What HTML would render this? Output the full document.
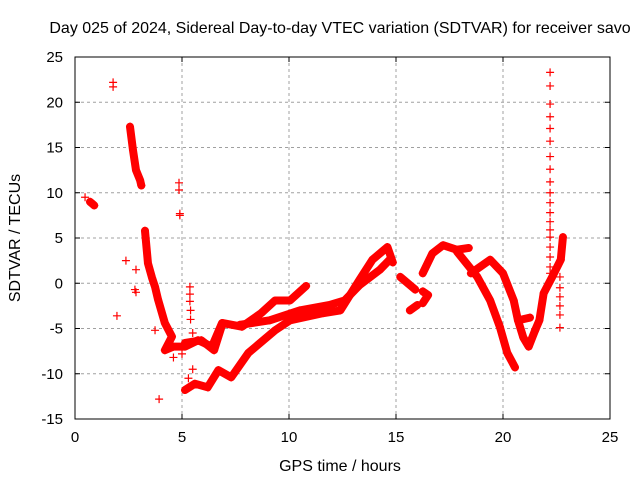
<!DOCTYPE html>
<html><head><meta charset="utf-8">
<style>
body{margin:0;background:#fff;}
svg{display:block;font-family:"Liberation Sans",sans-serif;}
</style></head>
<body>
<svg id="chart" width="640" height="480" viewBox="0 0 640 480">
<rect x="0" y="0" width="640" height="480" fill="#fff"/>
<text x="340" y="33" text-anchor="middle" font-size="16">Day 025 of 2024, Sidereal Day-to-day VTEC variation (SDTVAR) for receiver savo</text>
<text x="340" y="471" text-anchor="middle" font-size="16">GPS time / hours</text>
<text x="20" y="238" text-anchor="middle" font-size="16" transform="rotate(-90 20 238)">SDTVAR / TECUs</text>
<g id="grid"></g>
<g id="axes"></g>
<g id="marks"></g>
</svg>
<script>
const xTicks=[0,5,10,15,20,25];
const yTicks=[25,20,15,10,5,0,-5,-10,-15];
// tracks: [hour, value]
const trackLowerLoop=[[5.14,-11.8],[5.6,-11.1],[6.2,-11.5],[6.7,-9.6],[7.3,-10.4],[8.1,-7.7],[9.35,-5.2],[10.05,-4.1],[11.6,-3.3],[12.4,-3.0],[13.3,0.4],[13.9,2.6],[14.6,4.0],[14.85,2.3]];
const trackUpperBand=[[5.14,-6.6],[5.9,-6.3],[6.5,-7.4],[6.9,-4.4],[7.8,-4.8],[8.7,-3.3],[9.35,-1.9],[10.05,-1.9],[10.8,-0.3]];
const trackMiddleBand=[[7.7,-4.6],[9.1,-4.1],[10.5,-3.0],[11.9,-2.4],[12.6,-1.9],[13.3,-0.2],[14.25,1.5],[14.7,2.6]];
const trackEarlyDescent=[[2.57,17.3],[2.71,14.7],[2.85,12.5],[3.04,11.4],[3.1,10.8]];
const trackMidDescent=[[3.27,5.8],[3.41,2.2],[3.6,0.6],[3.74,-0.4],[3.88,-1.8],[4.2,-4.4],[4.53,-5.9],[4.2,-7.4],[4.6,-7.0],[5.14,-7.0],[5.75,-6.3],[6.4,-7.0],[6.87,-4.4]];
const trackEarlyBlob=[[0.7,9.0],[0.8,8.8],[0.9,8.6]];
const trackR1=[[15.2,0.7],[15.9,-0.7]];
const trackR2=[[15.65,-3.0],[16.0,-2.4]];
const trackR3=[[16.25,1.1],[16.7,3.3],[17.2,4.2],[17.85,3.7],[18.4,3.9]];
const trackR3b=[[16.25,-0.9],[16.5,-1.3],[16.25,-2.2]];
const trackR4=[[17.85,3.5],[18.8,0.7],[19.4,-1.9],[19.85,-4.8],[20.2,-7.7],[20.56,-9.3]];
const trackR5=[[18.5,1.1],[19.4,2.6],[20.0,1.1],[20.5,-1.9],[20.7,-4.1],[21.26,-3.8]];
const trackR6=[[20.7,-4.1],[20.95,-6.0],[21.2,-7.0],[21.5,-5.2]];
const trackR7=[[21.5,-5.2],[21.7,-4.1],[21.9,-1.1],[22.3,0.7],[22.7,2.6],[22.8,5.1]];
const scatterPoints=[[0.47,9.5],[1.78,22.2],[1.78,21.7],[1.96,-3.6],[2.38,2.5],[2.85,1.5],[2.8,-0.7],[2.85,-1.0],[3.93,-12.8],[3.74,-5.2],[4.86,11.1],[4.86,10.3],[4.9,7.7],[4.9,7.5],
[5.37,-0.4],[5.37,-1.2],[5.37,-2.0],[5.4,-3.0],[5.4,-4.0],[5.5,-5.5],[5.5,-9.5],[5.3,-10.5],[4.6,-8.2],[5.0,-7.8],
[22.2,23.3],[22.2,21.8],[22.2,19.8],[22.2,18.4],[22.2,17.1],[22.2,15.7],[22.2,14.0],[22.2,12.6],[22.2,11.2],[22.2,10.0],[22.2,8.9],[22.2,7.8],[22.2,6.8],[22.2,5.9],[22.2,5.1],[22.2,4.0],[22.2,2.9],[22.2,1.8],[22.2,1.1],
[22.66,0.7],[22.66,-0.5],[22.66,-1.5],[22.66,-2.5],[22.66,-3.5],[22.66,-4.9]];
const tracks=[trackLowerLoop,trackUpperBand,trackMiddleBand,trackEarlyDescent,trackMidDescent,trackEarlyBlob,trackR1,trackR2,trackR3,trackR3b,trackR4,trackR5,trackR6,trackR7];

const X0=75,X1=610,Y0=57,Y1=419;
function sx(h){return X0+(h-0)/(25-0)*(X1-X0);}
function sy(v){return Y0+(25-v)/(25-(-15))*(Y1-Y0);}
const NS='http://www.w3.org/2000/svg';
function mk(tag,attrs,parent){const e=document.createElementNS(NS,tag);for(const k in attrs)e.setAttribute(k,attrs[k]);parent.appendChild(e);return e;}
const grid=document.getElementById('grid'),axes=document.getElementById('axes'),marks=document.getElementById('marks');
xTicks.forEach(t=>{
  const x=sx(t);
  if(t>0&&t<25){const l=mk('line',{x1:x,y1:Y0,x2:x,y2:Y1,stroke:'#a0a0a0','stroke-dasharray':'3,3'},grid);
  
  }
  mk('line',{x1:x,y1:Y1,x2:x,y2:Y1-5,stroke:'#000'},axes);
  mk('line',{x1:x,y1:Y0,x2:x,y2:Y0+5,stroke:'#000'},axes);
  const tx=mk('text',{x:x,y:Y1+23,'text-anchor':'middle','font-size':15},axes);tx.textContent=t;
  
  
});
yTicks.forEach(t=>{
  const y=sy(t);
  if(t<25&&t>-15){const l=mk('line',{x1:X0,y1:y,x2:X1,y2:y,stroke:'#a0a0a0','stroke-dasharray':'3,3'},grid);
  
  }
  mk('line',{x1:X0,y1:y,x2:X0+5,y2:y,stroke:'#000'},axes);
  mk('line',{x1:X1,y1:y,x2:X1-5,y2:y,stroke:'#000'},axes);
  const tx=mk('text',{x:X0-12,y:y+5,'text-anchor':'end','font-size':15},axes);tx.textContent=t;
  
  
});
const frame=mk('rect',{x:X0,y:Y0,width:X1-X0,height:Y1-Y0,fill:'none',stroke:'#000'},axes);


function plus(h,v){const x=sx(h),y=sy(v);
  const p=mk('path',{d:`M${x-4},${y}h8M${x},${y-4}v8`,stroke:'#f00','stroke-width':1.2,fill:'none'},marks);
  
  }
tracks.forEach(tr=>{
  const pl=mk('polyline',{points:tr.map(p=>sx(p[0])+','+sy(p[1])).join(' '),fill:'none',stroke:'#f00','stroke-width':8,'stroke-linejoin':'round','stroke-linecap':'round'},marks);
  
  
  tr.forEach(p=>plus(p[0],p[1]));
});
scatterPoints.forEach(p=>plus(p[0],p[1]));
</script>
</body></html>
